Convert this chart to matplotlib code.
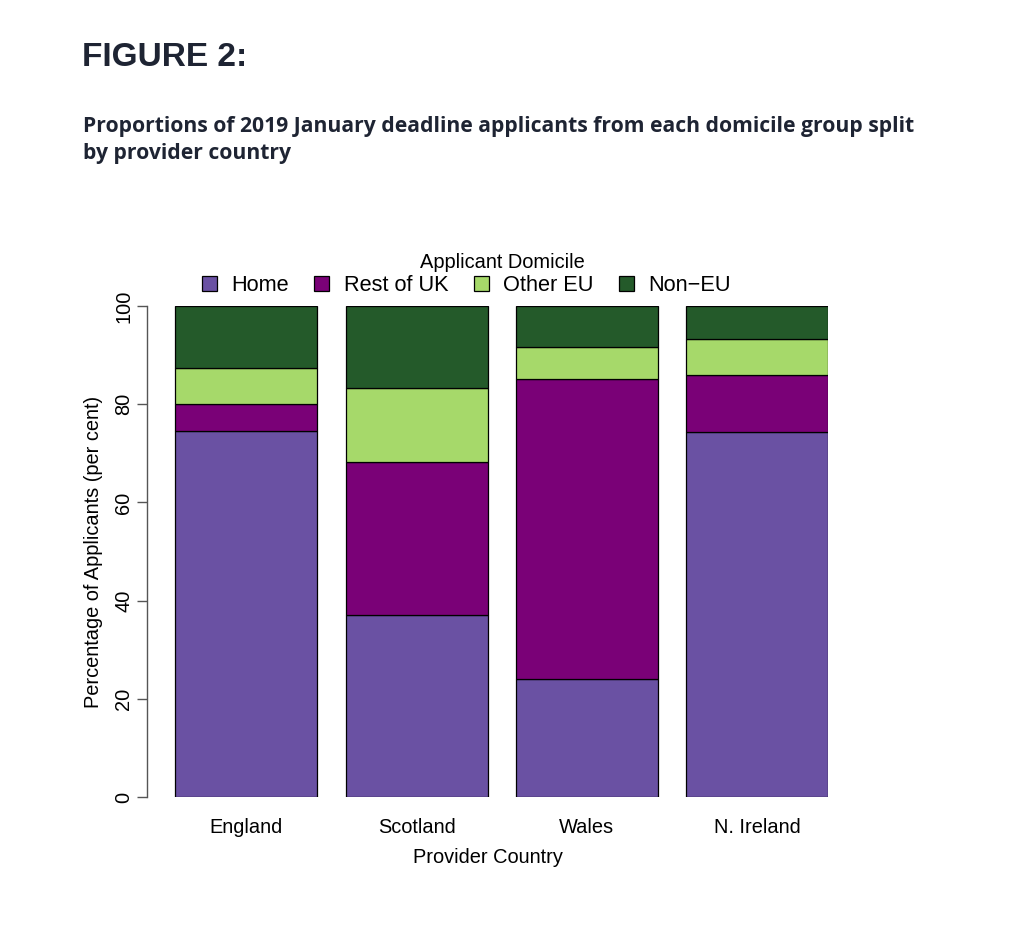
import matplotlib.pyplot as plt
import numpy as np

countries = ["England", "Scotland", "Wales", "N. Ireland"]
domiciles = ["Home", "Rest of UK", "Other EU", "Non\u2212EU"]
home = [74.5, 37.0, 24.1, 74.3]
rest_of_uk = [5.5, 31.2, 61.0, 11.6]
other_eu = [7.4, 15.2, 6.5, 7.4]
non_eu = [12.6, 16.6, 8.4, 6.7]
colours = ["#6a51a3", "#7a0177", "#a6d96a", "#245a2a"]

plt.rcParams["font.family"] = ["Liberation Sans", "DejaVu Sans"]

fig = plt.figure(figsize=(10.22, 9.5), dpi=100)
W, H = 1022.0, 950.0

# header text
fig.text(82 / W, 1 - 57 / H, "FIGURE 2:", fontweight="bold", fontsize=24,
         color="#1e2433", va="center", ha="left")
fig.text(83 / W, 1 - 140 / H,
         "Proportions of 2019 January deadline applicants from each domicile group split\nby provider country",
         family=["Open Sans", "DejaVu Sans"], fontweight="bold", fontsize=15.2, color="#1e2433",
         va="center", ha="left", linespacing=1.4)

# plot area: x from 0 to 4.8 (R barplot, width 1, space 0.2)
ax = fig.add_axes([147 / W, 1 - 797 / H, (828 - 147) / W, (797 - 306) / H])
x = 0.2 + 1.2 * np.arange(len(countries)) + 0.5

bottom = np.zeros(len(countries))
for name, vals, col in zip(domiciles, [home, rest_of_uk, other_eu, non_eu], colours):
    ax.bar(x, vals, width=1.0, bottom=bottom, color=col, edgecolor="black",
           linewidth=0.9, label=name)
    bottom = bottom + np.array(vals)

ax.set_xlim(0, 4.8)
ax.set_ylim(0, 100)
for s in ["top", "right", "bottom"]:
    ax.spines[s].set_visible(False)
ax.spines["left"].set_color("#555555")
ax.spines["left"].set_linewidth(1.0)

ax.set_yticks([0, 20, 40, 60, 80, 100])
ax.set_yticklabels(["0", "20", "40", "60", "80", "100"], rotation=90, va="center")
ax.tick_params(axis="y", length=7, width=1.0, color="#555555", labelsize=14.4, pad=3)
ax.set_xticks(x)
ax.set_xticklabels(countries)
ax.tick_params(axis="x", length=0, labelsize=14.4, pad=15)

ax.set_xlabel("Provider Country", fontsize=14.4, labelpad=8)
ax.set_ylabel("Percentage of Applicants (per cent)", fontsize=14.4, labelpad=8)

leg = ax.legend(loc="center left", bbox_to_anchor=((201.7 - 147) / 681, (797 - 285.5) / 491),
                ncol=4, frameon=False, fontsize=15.7,
                handlelength=0.69, handleheight=0.69, handletextpad=0.66,
                columnspacing=1.17, borderpad=0.0, borderaxespad=0.0)
for p in leg.get_patches():
    p.set_linewidth(0.9)
# legend title (R centres it over the whole legend box)
ax.text((502 - 147) / 681, (797 - 263) / 491, "Applicant Domicile", transform=ax.transAxes,
        ha="center", va="center", fontsize=14.4)

fig.savefig("out.png", dpi=100, facecolor="white")
